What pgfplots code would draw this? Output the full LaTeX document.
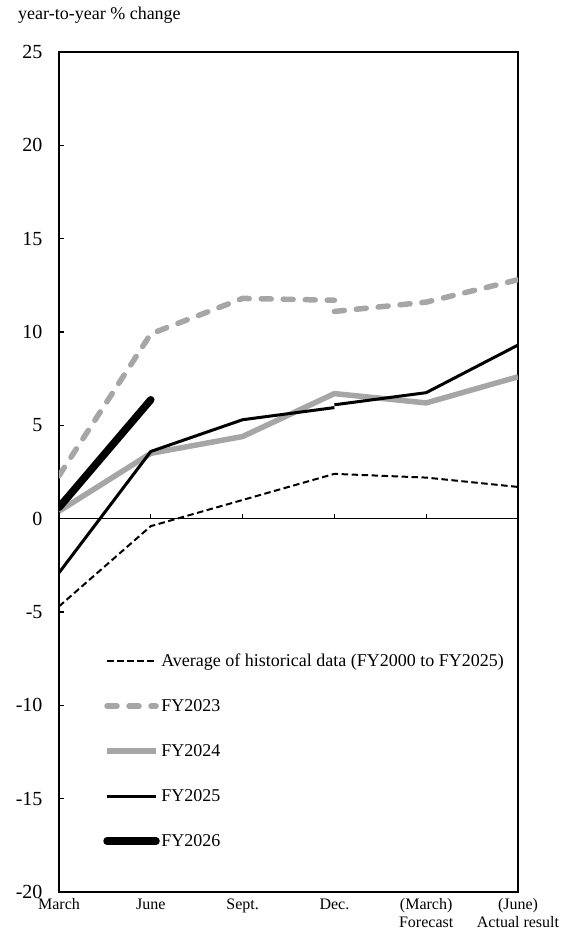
\documentclass[border=0pt]{standalone}
\usepackage{fontspec}
\setmainfont{Liberation Serif}
\usepackage{pgfplots}
\pgfplotsset{compat=1.18}
\definecolor{gr}{HTML}{A6A6A6}
\begin{document}
\begin{tikzpicture}
\begin{axis}[name=ax, scale only axis, width=459pt, height=840pt,
  xmin=0, xmax=5, ymin=-20, ymax=25,
  ytick={-20,-15,...,25},
  xtick={0,...,5},
  xticklabels={March,June,Sept.,Dec.,{(March)\\Forecast},{(June)\\Actual result}},
  xticklabel style={align=center, font=\fontsize{16}{18}\selectfont, anchor=north, yshift=-3pt},
  yticklabel style={font=\fontsize{20}{22}\selectfont, xshift=-13pt},
  /pgf/number format/assume math mode=true,
  tick align=inside, ytick pos=left, xtick style={draw=none},
  major tick length=5pt,
  axis line style={line width=1.5pt}, tick style={line width=1.2pt, black},
  legend style={draw=none, fill=none, at={(axis cs:0.48,-7.15)}, anchor=north west,
    font=\fontsize{18}{20}\selectfont, row sep=28.5pt, inner sep=0pt, nodes={inner sep=1.5pt}},
  legend cell align=left,
  legend image code/.code={\draw[#1] (-2pt,0pt) -- (47pt,0pt);},
]
\draw[line width=1.5pt] (axis cs:0,0) -- (axis cs:5,0);
\draw[line width=1.2pt] (axis cs:1,0) -- ([yshift=5pt]axis cs:1,0);
\draw[line width=1.2pt] (axis cs:2,0) -- ([yshift=5pt]axis cs:2,0);
\draw[line width=1.2pt] (axis cs:3,0) -- ([yshift=5pt]axis cs:3,0);
\draw[line width=1.2pt] (axis cs:4,0) -- ([yshift=5pt]axis cs:4,0);
\addplot[black, line width=2pt, dash pattern=on 6.5pt off 3.5pt] coordinates {(0,-4.7)(1,-0.4)(2,1.0)(3,2.4)(4,2.2)(5,1.7)};
\addlegendentry{Average of historical data (FY2000 to FY2025)}
\addplot[gr, line width=5.5pt, line cap=round, dash pattern=on 10pt off 12pt] coordinates {(0,2.3)(1,9.9)(2,11.8)(3,11.7)};
\addlegendentry{FY2023}
\addplot[gr, line width=5.5pt, line cap=round, dash pattern=on 10pt off 12pt, forget plot] coordinates {(3,11.1)(4,11.6)(5,12.8)};
\addplot[gr, line width=5.5pt] coordinates {(0,0.4)(1,3.5)(2,4.4)(3,6.7)(4,6.2)(5,7.6)};
\addlegendentry{FY2024}
\addplot[black, line width=3pt] coordinates {(0,-2.9)(1,3.6)(2,5.3)(3,5.95)};
\addlegendentry{FY2025}
\addplot[black, line width=3pt, forget plot] coordinates {(3,6.1)(4,6.75)(5,9.3)};
\addplot[black, line width=7.5pt, line cap=round] coordinates {(0,0.6)(1,6.37)};
\addlegendentry{FY2026}
\end{axis}
\node[anchor=west, font=\fontsize{18}{20}\selectfont, inner sep=0pt] at ([shift={(-41pt,37pt)}]ax.north west) {year-to-year \% change};
\pgfresetboundingbox
\path ([shift={(-59pt,-44pt)}]ax.south west) rectangle ([shift={(44pt,52pt)}]ax.north east);
\end{tikzpicture}
\end{document}
